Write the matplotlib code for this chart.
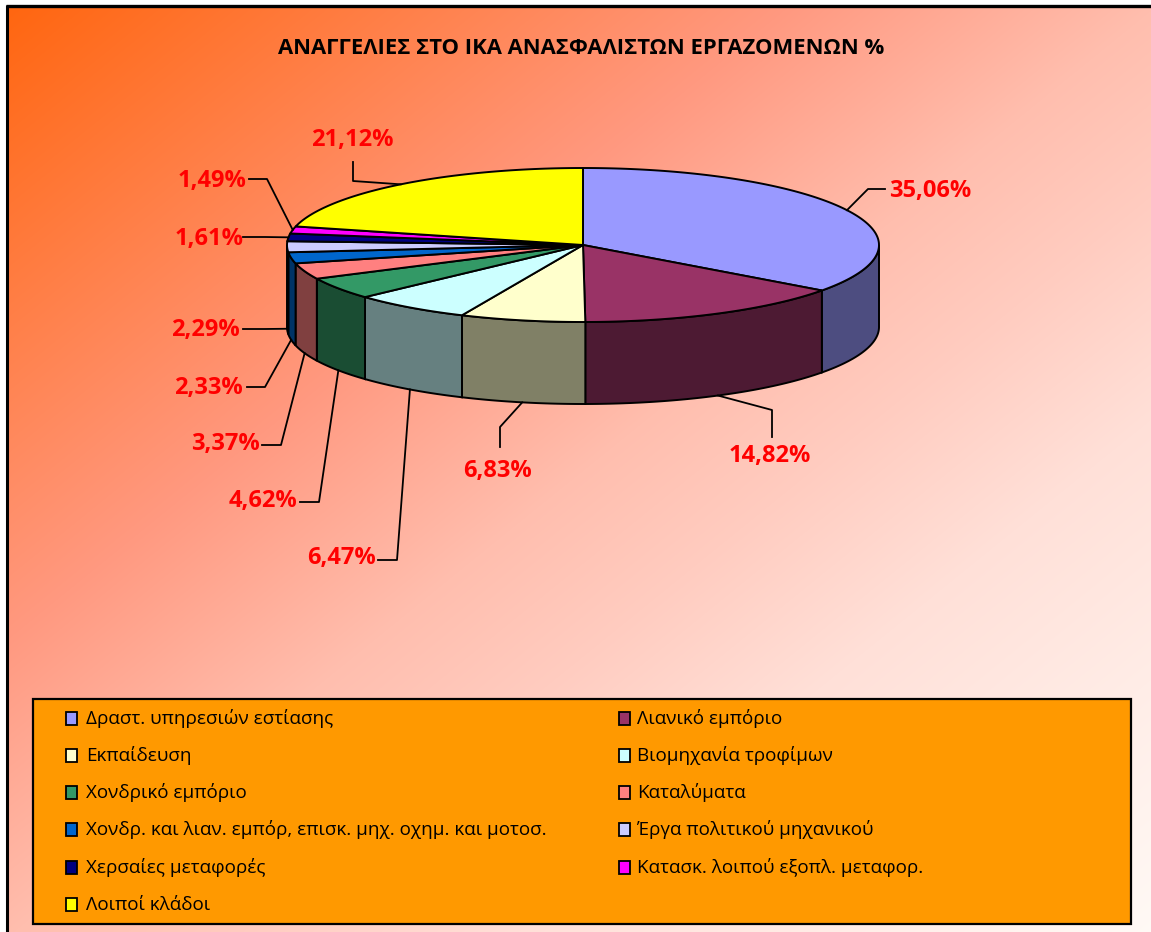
import numpy as np
import matplotlib.pyplot as plt
from matplotlib.patches import Polygon, Rectangle
from matplotlib.colors import to_rgb

# data
title = 'ΑΝΑΓΓΕΛΙΕΣ ΣΤΟ ΙΚΑ ΑΝΑΣΦΑΛΙΣΤΩΝ ΕΡΓΑΖΟΜΕΝΩΝ %'
categories = ['Δραστ. υπηρεσιών εστίασης', 'Λιανικό εμπόριο', 'Εκπαίδευση',
              'Βιομηχανία τροφίμων', 'Χονδρικό εμπόριο', 'Καταλύματα',
              'Χονδρ. και λιαν. εμπόρ, επισκ. μηχ. οχημ. και μοτοσ.',
              'Έργα πολιτικού μηχανικού', 'Χερσαίες μεταφορές',
              'Κατασκ. λοιπού εξοπλ. μεταφορ.', 'Λοιποί κλάδοι']
shares = [35.06, 14.82, 6.83, 6.47, 4.62, 3.37, 2.33, 2.29, 1.61, 1.49, 21.12]
colors = ['#9999FF', '#993366', '#FFFFCC', '#CCFFFF', '#339966', '#FF8080',
          '#0066CC', '#CCCCFF', '#000080', '#FF00FF', '#FFFF00']

# label layout (pixels): text centre, elbow of leader, end of leader
label_xy = [(930, 191), (770, 456), (498, 471), (342, 558), (263, 501), (225, 444),
            (208, 388), (205, 330), (209, 239), (212, 181), (352, 140)]
elbows = [(868, 189), (772, 410), (500, 427), (397, 560), (319, 502), (281, 445),
          (265, 387), (265, 329), (265, 237), (267, 179), (353, 181)]
ends = [(885, 189), (772, 437), (500, 447), (378, 560), (300, 502), (262, 445),
        (247, 387), (243, 329), (243, 237), (249, 179), (353, 162)]

W, H = 1151, 932
plt.rcParams['font.family'] = ['Open Sans', 'DejaVu Sans']

fig = plt.figure(figsize=(W / 100, H / 100), dpi=100)
fig.patch.set_facecolor('white')
ax = fig.add_axes([0, 0, 1, 1])
ax.set_xlim(0, W)
ax.set_ylim(H, 0)
ax.axis('off')

# background gradient, orange top-left to pale pink bottom-right
xx, yy = np.meshgrid(np.arange(W), np.arange(H))
t = (xx / W + yy / H) / 2
stops = [0, 0.34, 0.5, 0.6, 0.72, 1.0]
g = np.interp(t, stops, [102, 153, 190, 204, 224, 250])
b = np.interp(t, stops, [16, 128, 174, 192, 216, 246])
img = np.dstack([np.full_like(t, 255.0), g, b]) / 255
ax.imshow(img, extent=(8, W + 4, H + 4, 7), aspect='auto', zorder=0)
ax.plot([6, W + 5], [5.5, 5.5], color='black', lw=2.4, zorder=1,
        solid_capstyle='butt')
ax.plot([7, 7], [5, H + 5], color='black', lw=2.2, zorder=1,
        solid_capstyle='butt')

ax.text(581, 48, title, ha='center', va='center', fontsize=15.8,
        fontweight='bold', color='black', zorder=5)

# 3d pie
cx, cy, rx, ry, depth = 583, 245, 296, 77, 82


def ell(a, dy=0.0):
    a = np.radians(np.atleast_1d(a))
    return np.column_stack([cx + rx * np.cos(a), cy - ry * np.sin(a) + dy])


def darker(c):
    return tuple(v * 0.5 for v in to_rgb(c))


bounds = 90 - 360 * np.concatenate([[0], np.cumsum(shares)]) / sum(shares)

# side walls (front half only)
for i in range(len(shares)):
    hi = min(bounds[i], 0)
    lo = max(bounds[i + 1], -180)
    if hi > lo:
        a = np.linspace(hi, lo, 80)
        pts = np.vstack([ell(a), ell(a[::-1], depth)])
        ax.add_patch(Polygon(pts, closed=True, facecolor=darker(colors[i]),
                             edgecolor='black', lw=1.4, zorder=2))

# top face
for i in range(len(shares)):
    a = np.linspace(bounds[i], bounds[i + 1], 120)
    pts = np.vstack([[cx, cy], ell(a)])
    ax.add_patch(Polygon(pts, closed=True, facecolor=colors[i],
                         edgecolor='black', lw=1.4, zorder=3))

# data labels with leader lines
for i, v in enumerate(shares):
    m = (bounds[i] + bounds[i + 1]) / 2
    if np.sin(np.radians(m)) >= 0:
        anchor = ell(m)[0]
    else:
        anchor = ell(m, depth)[0]
    xs = [anchor[0], elbows[i][0], ends[i][0]]
    ys = [anchor[1], elbows[i][1], ends[i][1]]
    ax.plot(xs, ys, color='black', lw=1.3, zorder=4)
    lbl = f'{v:.2f}'.replace('.', ',') + '%'
    ax.text(label_xy[i][0], label_xy[i][1], lbl, ha='center', va='center',
            fontsize=17, fontweight='bold', color='#FF0000', zorder=5)

# legend box
ax.add_patch(Rectangle((33, 699), 1098, 225, facecolor='#FF9900',
                       edgecolor='black', lw=1.6, zorder=2))
mark_x = [66, 619]
text_x = [86, 637]
for k, name in enumerate(categories):
    row, col = divmod(k, 2)
    y = 718 + row * 37.3
    ax.add_patch(Rectangle((mark_x[col], y - 6.5), 11, 13, facecolor=colors[k],
                           edgecolor='black', lw=1.3, zorder=3))
    ax.text(text_x[col], y, name, ha='left', va='center', fontsize=13.6,
            color='black', zorder=4)

fig.savefig('out.png', dpi=100)
